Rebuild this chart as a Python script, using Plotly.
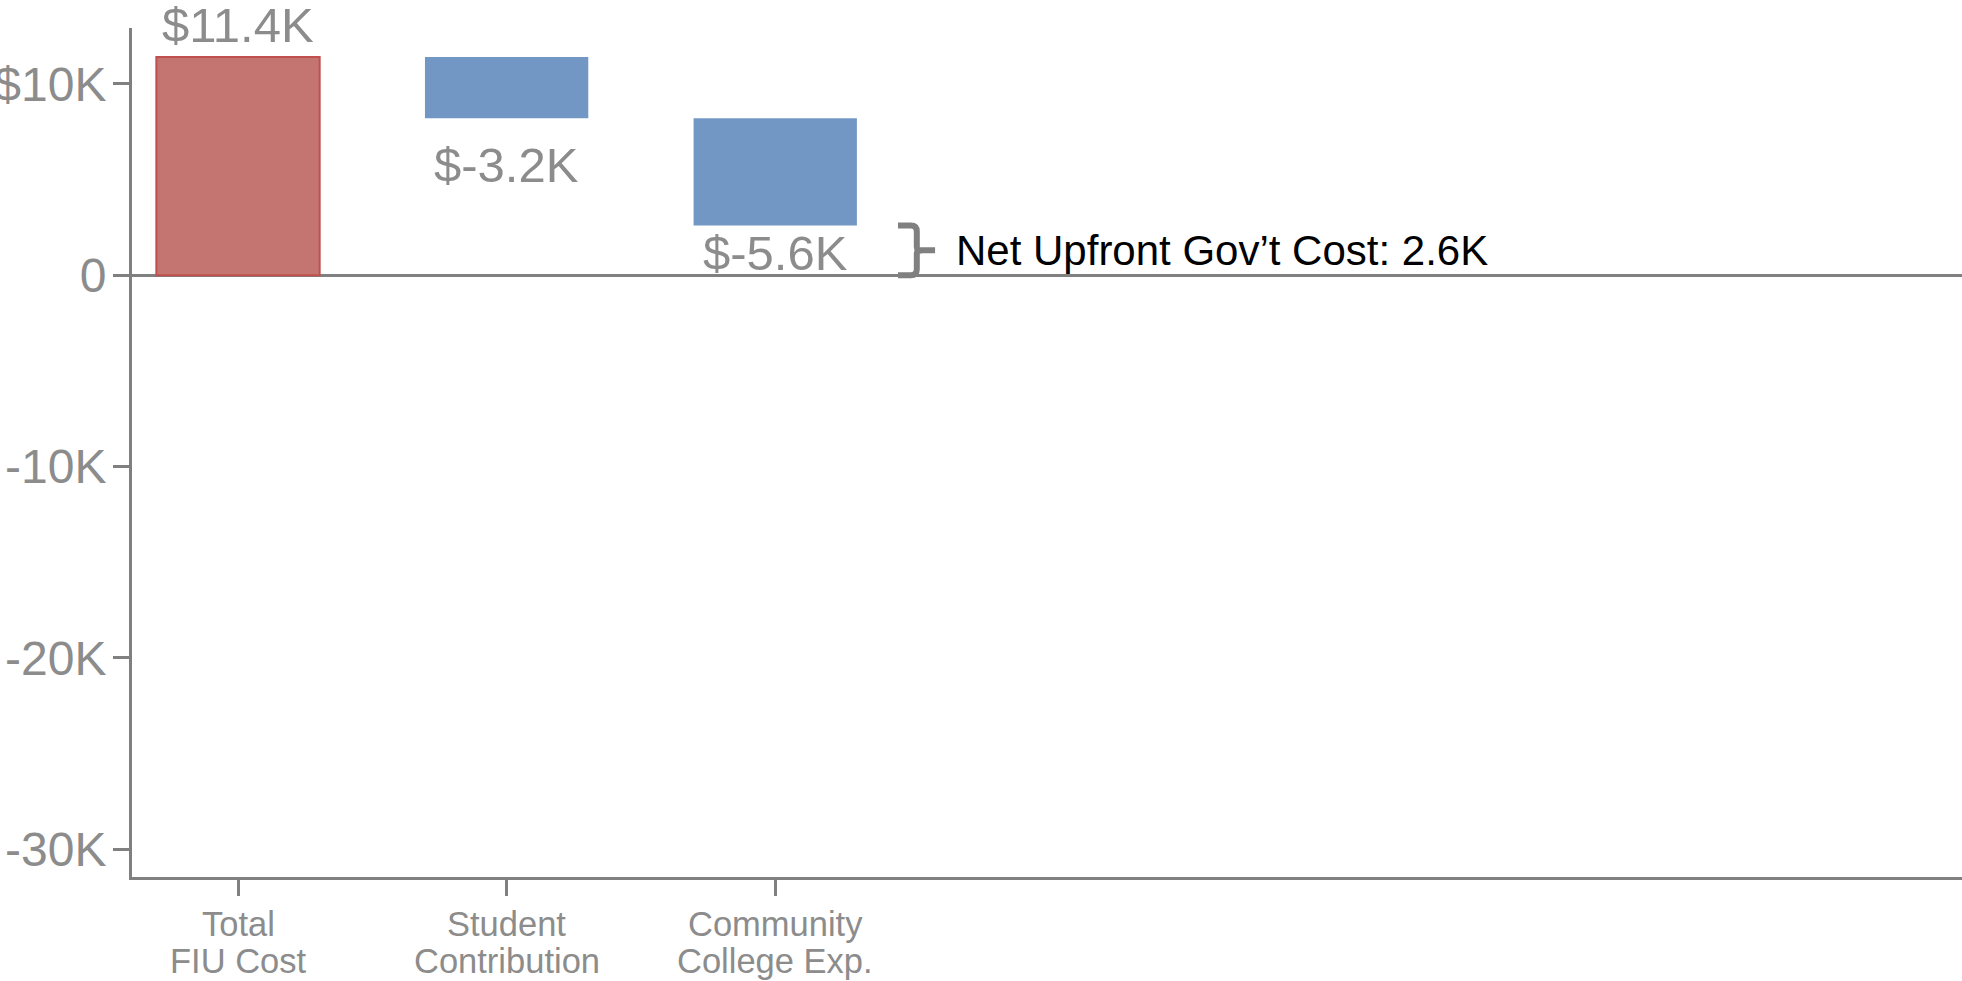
import plotly.graph_objects as go

# Waterfall steps (USD)
cat_line1 = ["Total", "Student", "Community"]
cat_line2 = ["FIU Cost", "Contribution", "College Exp."]
deltas = [11400, -3200, -5600]
value_labels = ["$11.4K", "$-3.2K", "$-5.6K"]

y_tickvals = [10000, 0, -10000, -20000, -30000]
y_ticktext = ["$10K", "0", "-10K", "-20K", "-30K"]

FONT = "Arial, Liberation Sans, sans-serif"
GRAY = "#808080"
TEXT_GRAY = "#8c8c8c"
RED_FILL = "#c47471"
RED_LINE = "#c0504d"
BLUE_FILL = "#7397c4"

# running totals -> bar bases
bases = []
running = 0
for d in deltas:
    bases.append(running if d < 0 else 0)
    running += d
net = running

xpos = list(range(len(deltas)))
fills = [RED_FILL if d > 0 else BLUE_FILL for d in deltas]
lines = [RED_LINE if d > 0 else BLUE_FILL for d in deltas]

fig = go.Figure()
fig.add_trace(go.Bar(
    x=xpos, y=deltas, base=bases, width=0.608,
    marker=dict(color=fills, line=dict(color=lines, width=[2, 0, 0])),
    hoverinfo="skip", showlegend=False,
))

# value labels: above positive bars, below negative bars
label_shift = [32, -47, -28]
for x, b, d, t, s in zip(xpos, bases, deltas, value_labels, label_shift):
    end = b + d
    fig.add_annotation(x=x, y=end, text=t, showarrow=False, yshift=s,
                       xanchor="center", yanchor="middle",
                       font=dict(family=FONT, size=49, color=TEXT_GRAY))

# category labels, two tightly spaced lines under each tick
for x, l1, l2 in zip(xpos, cat_line1, cat_line2):
    for txt, shift in ((l1, -47), (l2, -84)):
        fig.add_annotation(x=x, xref="x", y=0, yref="paper", text=txt,
                           showarrow=False, yshift=shift,
                           xanchor="center", yanchor="middle",
                           font=dict(family=FONT, size=34.5, color=TEXT_GRAY))

# curly brace marking the net remaining cost (from 0 up to net)
bx = xpos[-1] + 0.457      # left tip of the hooks
vx = bx + 0.07             # vertical stroke
mx = vx + 0.068            # middle point
h = net
c = 0.12 * h
dx = 0.022
path = (
    f"M {bx},{h} L {vx - dx},{h} Q {vx},{h} {vx},{h - c} "
    f"L {vx},{h / 2 + c * 0.5} Q {vx},{h / 2} {vx + dx},{h / 2} L {mx},{h / 2} "
    f"M {vx + dx},{h / 2} Q {vx},{h / 2} {vx},{h / 2 - c * 0.5} "
    f"L {vx},{c} Q {vx},0 {vx - dx},0 L {bx},0"
)
fig.add_shape(type="path", path=path, xref="x", yref="y",
              line=dict(color=GRAY, width=6))

fig.add_annotation(x=xpos[-1] + 0.665, y=net / 2,
                   text=f"Net Upfront Gov\u2019t Cost: {net / 1000:.1f}K",
                   showarrow=False, xanchor="left", yanchor="middle",
                   font=dict(family=FONT, size=42, color="black"))

fig.update_layout(
    width=1962, height=981,
    margin=dict(l=132, r=0, t=28, b=104, autoexpand=False),
    plot_bgcolor="white", paper_bgcolor="white",
    bargap=0.4, showlegend=False,
)
fig.update_xaxes(
    range=[-0.3946, 6.418], tickvals=xpos, ticktext=["", "", ""],
    showgrid=False, zeroline=False, automargin=False,
    showline=True, linecolor=GRAY, linewidth=3,
    ticks="outside", ticklen=16, tickwidth=3, tickcolor=GRAY,
)
fig.update_yaxes(
    range=[-31450, 12920], tickvals=y_tickvals, ticktext=y_ticktext,
    showgrid=False, zeroline=True, zerolinecolor=GRAY, zerolinewidth=3,
    showline=True, linecolor=GRAY, linewidth=3, automargin=False,
    ticks="outside", ticklen=16, tickwidth=3, tickcolor=GRAY,
    ticklabelstandoff=-3,
    tickfont=dict(family=FONT, size=48, color=TEXT_GRAY),
)

fig.write_html("out.html")
